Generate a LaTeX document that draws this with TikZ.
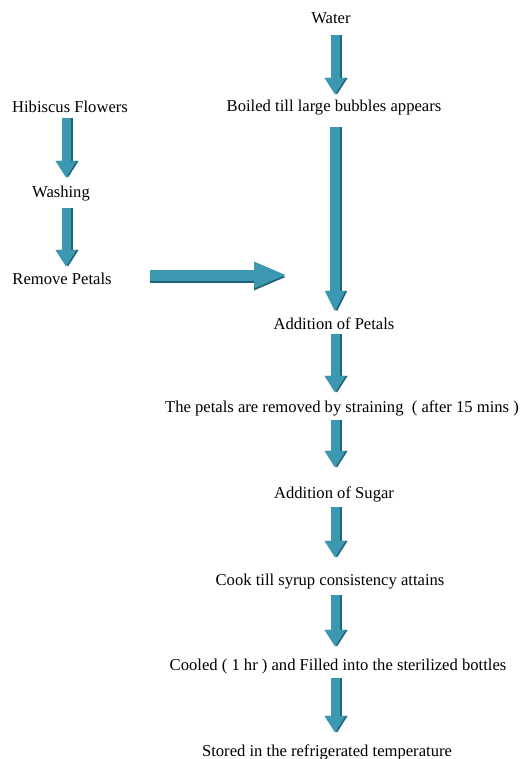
\documentclass[tikz,border=0pt]{standalone}
\usepackage{fontspec}
\setmainfont{Liberation Serif}
\usepackage{xcolor}
\usepackage{tikz}
\usetikzlibrary{positioning,calc,arrows.meta}

\definecolor{flowteal}{RGB}{60,152,177}
\definecolor{flowshade}{RGB}{30,100,120}

\begin{document}
\begin{tikzpicture}[x=1bp, y=-1bp,
    stage/.style={inner sep=0pt, text height=12bp, text depth=4bp, font=\fontsize{16.6bp}{19bp}\selectfont},
    flowarrow/.style={draw=flowteal, line width=9bp, -{Triangle[width=20bp, length=17bp]},
        preaction={draw=flowshade, line width=9bp, -{Triangle[width=20bp, length=17bp]}, transform canvas={xshift=2bp}}},
    longarrow/.style={draw=flowteal, line width=10bp, -{Triangle[width=19bp, length=21bp]},
        preaction={draw=flowshade, line width=10bp, -{Triangle[width=19bp, length=21bp]}, transform canvas={xshift=2bp}}},
    sidearrow/.style={draw=flowteal, line width=11bp, -{Triangle[width=24bp, length=33bp]},
        preaction={draw=flowshade, line width=11bp, -{Triangle[width=24bp, length=33bp]}, transform canvas={yshift=-2bp}}}]
    \useasboundingbox (0,0) rectangle (524,759);

    % columns that the arrows run along
    \coordinate (mainaxis) at (335,0);
    \coordinate (sideaxis) at (66,0);

    % right column
    \node[stage] (water) at (331,20) {Water};
    \node[stage] (boiled) at (334,107) {Boiled till large bubbles appears};
    \node[stage] (petals) at (334,325) {Addition of Petals};
    \node[stage] (strain) at (342,408) {The petals are removed by straining~~( after 15 mins )};
    \node[stage] (sugar) at (334,494) {Addition of Sugar};
    \node[stage] (cook) at (330,581) {Cook till syrup consistency attains};
    \node[stage] (cooled) at (338,666) {Cooled ( 1 hr ) and Filled into the sterilized bottles};
    \node[stage] (stored) at (327,752) {Stored in the refrigerated temperature};

    % left column
    \node[stage] (hibiscus) at (70,108) {Hibiscus Flowers};
    \node[stage] (washing) at (61,193) {Washing};
    \node[stage] (remove) at (62,280) {Remove Petals};

    \draw[flowarrow, shorten <=7bp, shorten >=4bp] (mainaxis |- water.south) -- (mainaxis |- boiled.north);
    \draw[longarrow, shorten <=12bp, shorten >=5bp] (mainaxis |- boiled.south) -- (mainaxis |- petals.north);
    \draw[flowarrow, shorten <=1bp, shorten >=7bp] (mainaxis |- petals.south) -- (mainaxis |- strain.north);
    \draw[flowarrow, shorten <=4bp, shorten >=18bp] (mainaxis |- strain.south) -- (mainaxis |- sugar.north);
    \draw[flowarrow, shorten <=5bp, shorten >=15bp] (mainaxis |- sugar.south) -- (mainaxis |- cook.north);
    \draw[flowarrow, shorten <=6bp, shorten >=11bp] (mainaxis |- cook.south) -- (mainaxis |- cooled.north);
    \draw[flowarrow, shorten <=4bp, shorten >=11bp] (mainaxis |- cooled.south) -- (mainaxis |- stored.north);

    \draw[flowarrow, shorten <=2bp, shorten >=7bp] (sideaxis |- hibiscus.south) -- (sideaxis |- washing.north);
    \draw[flowarrow, shorten <=7bp, shorten >=5bp] (sideaxis |- washing.south) -- (sideaxis |- remove.north);

    \draw[sidearrow, shorten <=38bp, shorten >=48bp] ($(remove.east)+(0,-5)$) -- ($(remove.east -| mainaxis)+(0,-5)$);
\end{tikzpicture}
\end{document}
